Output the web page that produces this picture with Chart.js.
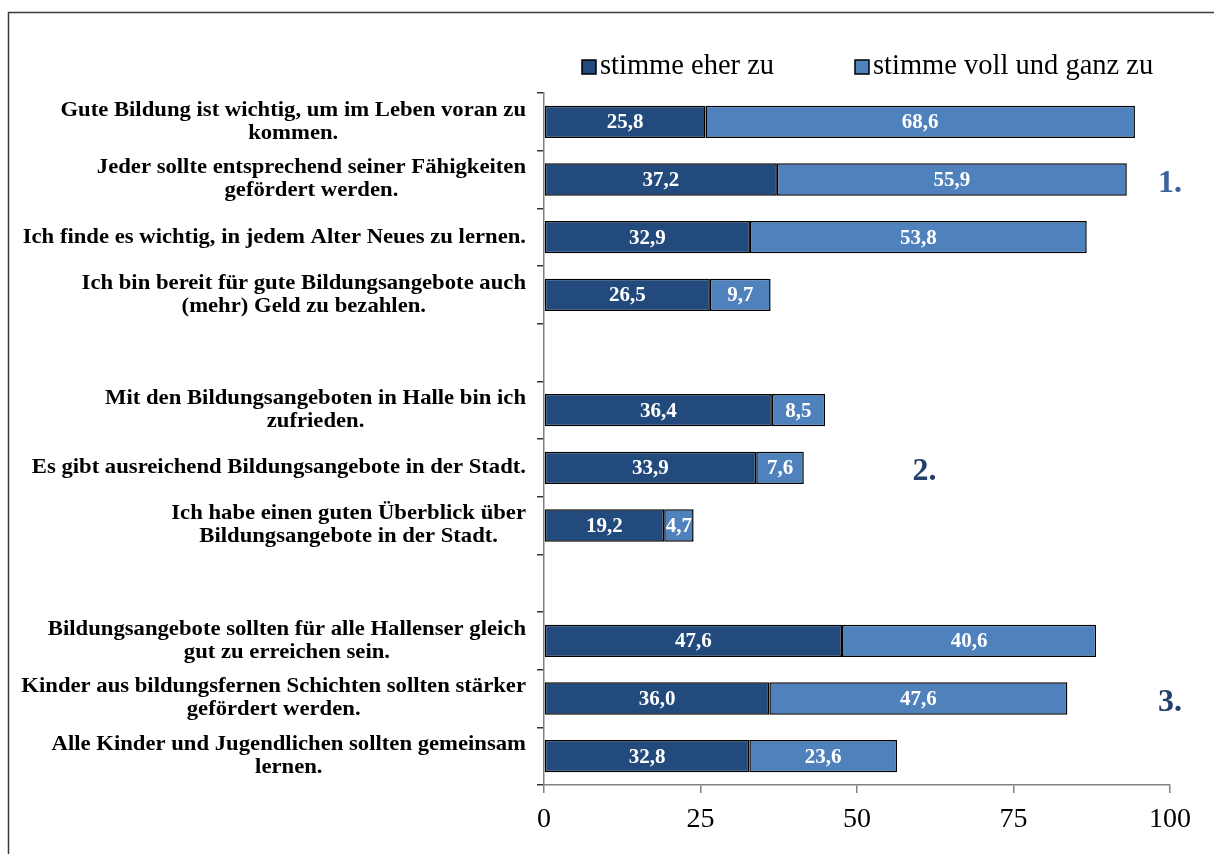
<!DOCTYPE html>
<html>
<head>
<meta charset="utf-8">
<script src="https://cdn.jsdelivr.net/npm/chart.js@4/dist/chart.umd.min.js"></script>
<style>
html,body{margin:0;padding:0;background:#fff;}
#wrap{width:1214px;height:854px;position:relative;}
</style>
</head>
<body>
<div id="wrap"><canvas id="c" width="1214" height="854"></canvas></div>
<script>
// ---- data ----
const categories = [
  ["Gute Bildung ist wichtig, um im Leben voran zu", "kommen."],
  ["Jeder sollte entsprechend seiner Fähigkeiten", "gefördert werden."],
  ["Ich finde es wichtig, in jedem Alter Neues zu lernen."],
  ["Ich bin bereit für gute Bildungsangebote auch", "(mehr) Geld zu bezahlen."],
  [""],
  ["Mit den Bildungsangeboten in Halle bin ich", "zufrieden."],
  ["Es gibt ausreichend Bildungsangebote in der Stadt."],
  ["Ich habe einen guten Überblick über", "Bildungsangebote in der Stadt."],
  [""],
  ["Bildungsangebote sollten für alle Hallenser gleich", "gut zu erreichen sein."],
  ["Kinder aus bildungsfernen Schichten sollten stärker", "gefördert werden."],
  ["Alle Kinder und Jugendlichen sollten gemeinsam", "lernen."]
];
const seriesNames = ["stimme eher zu", "stimme voll und ganz zu"];
const eherZu = [25.8, 37.2, 32.9, 26.5, null, 36.4, 33.9, 19.2, null, 47.6, 36.0, 32.8];
const vollZu = [68.6, 55.9, 53.8, 9.7, null, 8.5, 7.6, 4.7, null, 40.6, 47.6, 23.6];
const xTicks = [0, 25, 50, 75, 100];
const groupMarks = [
  {text: "1.", x: 100, row: 1, color: "#3a639c"},
  {text: "2.", x: 60.8, row: 6, color: "#23406a"},
  {text: "3.", x: 100, row: 10, color: "#23406a"}
];

const colDark = "#224a7d";
const colLight = "#4f81bd";
const serif = "'Liberation Serif', 'DejaVu Serif', serif";

const framePlugin = {
  id: 'frame',
  beforeDraw(chart) {
    const ctx = chart.ctx;
    ctx.save();
    ctx.fillStyle = '#fff';
    ctx.fillRect(0, 0, chart.width, chart.height);
    ctx.strokeStyle = '#3a3a3a';
    ctx.lineWidth = 1.5;
    ctx.strokeRect(8.5, 12.5, 1400, 1000);
    ctx.restore();
  }
};

function stretchText(ctx, text, cx, cy, sx) {
  ctx.save();
  ctx.translate(cx, cy);
  ctx.scale(sx, 1);
  ctx.fillText(text, 0, 0);
  ctx.restore();
}

const labelsPlugin = {
  id: 'customLabels',
  afterDraw(chart) {
    const ctx = chart.ctx;
    const yS = chart.scales.y;
    const xS = chart.scales.x;
    ctx.save();
    // category labels: block right-aligned, lines centered within block
    const sx = 1.08;
    ctx.font = "bold 21px " + serif;
    ctx.fillStyle = '#000';
    ctx.textAlign = 'center';
    ctx.textBaseline = 'middle';
    const lh = 23;
    const rightEdge = yS.right - 18;
    categories.forEach((lines, i) => {
      const y = yS.getPixelForValue(i);
      let maxW = 0;
      lines.forEach(l => { maxW = Math.max(maxW, ctx.measureText(l).width * sx); });
      const cx = rightEdge - maxW / 2;
      lines.forEach((l, j) => {
        stretchText(ctx, l, cx, y + (j - (lines.length - 1) / 2) * lh, sx);
      });
    });
    // value labels inside bars
    ctx.font = "bold 21px " + serif;
    ctx.fillStyle = '#fff';
    chart.data.datasets.forEach((ds, di) => {
      const meta = chart.getDatasetMeta(di);
      meta.data.forEach((bar, i) => {
        const v = ds.data[i];
        if (v === null || v === undefined) return;
        const cx = (bar.x + bar.base) / 2;
        ctx.fillText(v.toFixed(1).replace('.', ','), cx, bar.y + 1);
      });
    });
    // group numbers
    ctx.font = "bold 32px " + serif;
    groupMarks.forEach(g => {
      ctx.fillStyle = g.color;
      ctx.fillText(g.text, xS.getPixelForValue(g.x), yS.getPixelForValue(g.row) + 4);
    });
    // legend
    ctx.font = "28.5px " + serif;
    ctx.textAlign = 'left';
    ctx.textBaseline = 'middle';
    const legY = 67;
    const legX = [582, 855];
    chart.data.datasets.forEach((ds, di) => {
      const x0 = legX[di];
      ctx.fillStyle = ds.backgroundColor;
      ctx.fillRect(x0, legY - 7, 14, 14);
      ctx.strokeStyle = '#000';
      ctx.lineWidth = 1.5;
      ctx.strokeRect(x0, legY - 7, 14, 14);
      ctx.fillStyle = '#000';
      ctx.fillText(ds.label, x0 + 18, legY);
    });
    ctx.restore();
  }
};

new Chart(document.getElementById('c'), {
  type: 'bar',
  data: {
    labels: categories,
    datasets: [
      {label: seriesNames[0], data: eherZu, backgroundColor: colDark, borderColor: '#000', borderWidth: 1.5, borderSkipped: false},
      {label: seriesNames[1], data: vollZu, backgroundColor: colLight, borderColor: '#000', borderWidth: 1.5, borderSkipped: false}
    ]
  },
  options: {
    indexAxis: 'y',
    responsive: false,
    animation: false,
    layout: {padding: {top: 93, right: 44, left: 0, bottom: 0}},
    datasets: {bar: {barPercentage: 0.56, categoryPercentage: 1.0}},
    plugins: {legend: {display: false}, tooltip: {enabled: false}},
    scales: {
      x: {
        stacked: true,
        min: 0, max: 100,
        afterBuildTicks(scale) { scale.ticks = xTicks.map(v => ({value: v})); },
        afterFit(scale) { scale.height = 69; },
        grid: {drawOnChartArea: false, drawTicks: true, tickLength: 8, color: '#808080', lineWidth: 1.5},
        border: {display: true, color: '#808080', width: 1.5},
        ticks: {color: '#000', font: {family: serif, size: 28}, padding: 10, maxRotation: 0}
      },
      y: {
        stacked: true,
        afterFit(scale) { scale.width = 544; },
        grid: {drawOnChartArea: false, offset: true, drawTicks: true, tickLength: 7, color: '#333', lineWidth: 1.5},
        border: {display: true, color: '#808080', width: 1.5},
        ticks: {display: false}
      }
    }
  },
  plugins: [framePlugin, labelsPlugin]
});
</script>
</body>
</html>
